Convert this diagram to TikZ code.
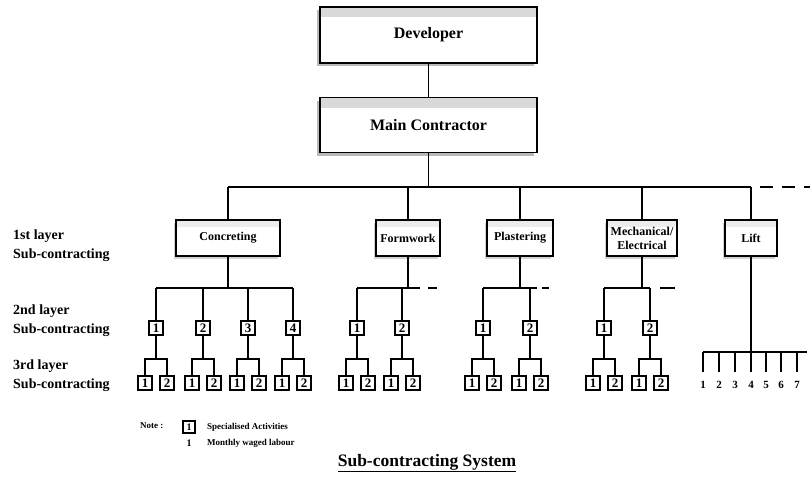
\documentclass[tikz,border=0pt]{standalone}
\usepackage{fontspec}
\setmainfont{Liberation Serif}

\tikzset{
  ln/.style={line width=1.2pt},
  topbox/.style={draw, line width=1.2pt, fill=white, inner sep=2pt, align=center,
    font=\bfseries\fontsize{16}{18}\selectfont,
    preaction={draw=none, fill=gray!55, transform canvas={xshift=-3pt, yshift=-3pt}},
    path picture={\fill[gray!30] (path picture bounding box.north west)
      rectangle ([yshift=-10pt]path picture bounding box.north east);}},
  tradebox/.style={draw, line width=1.2pt, fill=white, inner sep=2pt, align=center,
    minimum height=36pt, font=\bfseries\fontsize{12}{14}\selectfont,
    preaction={draw=none, fill=gray!35, transform canvas={xshift=-2.5pt, yshift=-2.5pt}},
    path picture={\fill[gray!15] (path picture bounding box.north west)
      rectangle ([yshift=-7pt]path picture bounding box.north east);}},
  sbox/.style={draw, line width=1.3pt, fill=white, minimum size=14pt, inner sep=0pt,
    font=\bfseries\fontsize{13}{13}\selectfont},
  layer/.style={anchor=west, align=left, inner sep=0pt,
    font=\bfseries\fontsize{14}{19}\selectfont},
  notetxt/.style={anchor=west, inner sep=0pt, font=\bfseries\fontsize{9}{10}\selectfont},
  cont/.style={line width=1.2pt, dash pattern=on 9pt off 8pt, dash phase=9pt},
}

\begin{document}
\begin{tikzpicture}[x=1pt,y=-1pt]
\useasboundingbox (0,0) rectangle (810,485);

% top of the tree
\node[topbox, minimum width=217pt, minimum height=56pt] (dev) at (428.5,35) {Developer};
\node[topbox, minimum width=217pt, minimum height=55pt] (main) at (428.5,125) {Main Contractor};
\draw[ln] (dev) -- (main);

\coordinate (bus) at (0,187);
\coordinate (b2) at (0,288);
\coordinate (b3) at (0,359);
\coordinate (lb) at (0,352);

% 1st layer
\node[tradebox, minimum width=104pt] (conc) at (228,238) {Concreting};
\node[tradebox, minimum width=64pt] (form) at (408,238) {Formwork};
\node[tradebox, minimum width=66pt] (plas) at (520,238) {Plastering};
\node[tradebox, minimum width=70pt] (mech) at (642,238) {Mechanical/\\Electrical};
\node[tradebox, minimum width=52pt] (lift) at (751,238) {Lift};

\draw[ln] (main) -- (main|-bus);
\draw[ln] (conc|-bus) -- (lift|-bus);
\draw[cont, dash pattern=on 13pt off 9pt, dash phase=13pt] (lift|-bus) -- ++(59,0);
\foreach \n in {conc,form,plas,mech,lift}
  \draw[ln] (\n) -- (\n|-bus);

% 2nd and 3rd layer
\foreach \i/\x in {1/156,2/203,3/248,4/293}{
  \node[sbox] (c\i) at (\x,328) {\i};
  \node[sbox] (c\i1) at (\x-11,383) {1};
  \node[sbox] (c\i2) at (\x+11,383) {2};
  \draw[ln] (c\i) -- (c\i|-b2);
  \draw[ln] (c\i) -- (c\i|-b3);
  \draw[ln] (c\i1) |- (c\i|-b3) -| (c\i2);
}
\draw[ln] (conc) -- (conc|-b2);
\draw[ln] (c1|-b2) -- (c4|-b2);

\foreach \i/\x in {1/357,2/402}{
  \node[sbox] (f\i) at (\x,328) {\i};
  \node[sbox] (f\i1) at (\x-11,383) {1};
  \node[sbox] (f\i2) at (\x+11,383) {2};
  \draw[ln] (f\i) -- (f\i|-b2);
  \draw[ln] (f\i) -- (f\i|-b3);
  \draw[ln] (f\i1) |- (f\i|-b3) -| (f\i2);
}
\draw[ln] (form) -- (form|-b2);
\draw[ln] (f1|-b2) -- ++(63,0);
\draw[cont] (f1|-b2) ++(63,0) -- ++(17,0);

\foreach \i/\x in {1/483,2/530}{
  \node[sbox] (p\i) at (\x,328) {\i};
  \node[sbox] (p\i1) at (\x-11,383) {1};
  \node[sbox] (p\i2) at (\x+11,383) {2};
  \draw[ln] (p\i) -- (p\i|-b2);
  \draw[ln] (p\i) -- (p\i|-b3);
  \draw[ln] (p\i1) |- (p\i|-b3) -| (p\i2);
}
\draw[ln] (plas) -- (plas|-b2);
\draw[ln] (p1|-b2) -- ++(54,0);
\draw[cont, dash pattern=on 7pt off 5pt, dash phase=7pt] (p1|-b2) ++(54,0) -- ++(12,0);

\foreach \i/\x in {1/604,2/650}{
  \node[sbox] (m\i) at (\x,328) {\i};
  \node[sbox] (m\i1) at (\x-11,383) {1};
  \node[sbox] (m\i2) at (\x+11,383) {2};
  \draw[ln] (m\i) -- (m\i|-b2);
  \draw[ln] (m\i) -- (m\i|-b3);
  \draw[ln] (m\i1) |- (m\i|-b3) -| (m\i2);
}
\draw[ln] (mech) -- (mech|-b2);
\draw[ln] (m1|-b2) -- ++(46,0);
\draw[cont, dash pattern=on 15pt off 10pt, dash phase=15pt] (m1|-b2) ++(46,0) -- ++(25,0);

% lift gang
\foreach \k/\x in {1/703,2/719,3/735,4/751,5/766,6/781,7/797}{
  \node[inner sep=0pt, font=\bfseries\fontsize{11}{11}\selectfont] (t\k) at (\x,385) {\k};
  \draw[ln] (t\k|-lb) -- ++(0,20);
}
\draw[ln] (lift) -- (lift|-lb);
\draw[ln] (t1|-lb) -- ++(104,0);

% layer labels
\node[layer] (l1) at (13,245.5) {1st layer\\Sub-contracting};
\node[layer] (l2) at (13,320.5) {2nd layer\\Sub-contracting};
\node[layer] (l3) at (13,376) {3rd layer\\Sub-contracting};

% note
\node[notetxt] (nt) at (140,426) {Note :};
\node[sbox, minimum size=12pt, font=\bfseries\fontsize{10}{10}\selectfont] (nb) at (189,427) {1};
\node[inner sep=0pt, font=\bfseries\fontsize{10}{10}\selectfont] (nn) at (189,443) {1};
\node[notetxt] (ns) at (207,427) {Specialised Activities};
\node[notetxt] (nm) at (207,443) {Monthly waged labour};

\node[inner sep=0pt, font=\bfseries\fontsize{17.5}{20}\selectfont] (ttl) at (427,463)
  {\underline{Sub-contracting System}};
\end{tikzpicture}
\end{document}
